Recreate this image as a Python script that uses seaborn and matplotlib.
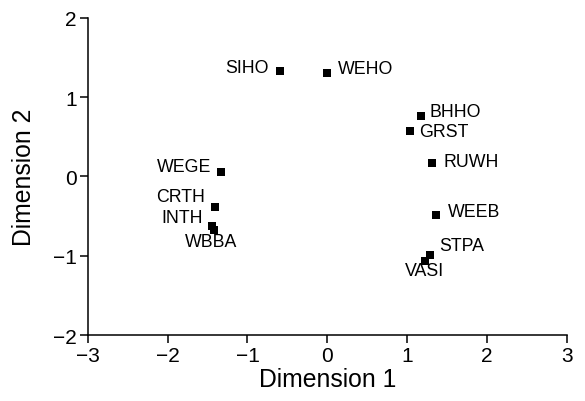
import matplotlib
matplotlib.use("Agg")
import matplotlib.pyplot as plt
import seaborn as sns
import pandas as pd

species = ["SIHO", "WEHO", "BHHO", "GRST", "RUWH", "WEEB", "STPA", "VASI",
           "WEGE", "CRTH", "INTH", "WBBA"]
dim1 = [-0.59, -0.01, 1.17, 1.03, 1.31, 1.36, 1.28, 1.22, -1.33, -1.41, -1.44, -1.42]
dim2 = [1.33, 1.31, 0.76, 0.57, 0.17, -0.48, -0.99, -1.06, 0.06, -0.38, -0.62, -0.68]

# label offsets in pixels (dx, dy) and alignment
offsets = {
    "SIHO": (-11, 4, "right"), "WEHO": (11, 4, "left"), "BHHO": (9, 5, "left"),
    "GRST": (10, 0, "left"), "RUWH": (12, 2, "left"), "WEEB": (12, 3, "left"),
    "STPA": (10, 9, "left"), "VASI": (0, -10, "center"), "WEGE": (-10, 5, "right"),
    "CRTH": (-10, 10, "right"), "INTH": (-9, 8, "right"), "WBBA": (-3, -11, "center"),
}

df = pd.DataFrame({"species": species, "Dimension 1": dim1, "Dimension 2": dim2})

sns.set_theme(style="ticks")
plt.rcParams["font.family"] = ["Liberation Sans", "DejaVu Sans"]

fig = plt.figure(figsize=(5.85, 4.02), dpi=100)
ax = fig.add_axes([0.150, 0.164, 0.819, 0.789])

sns.scatterplot(data=df, x="Dimension 1", y="Dimension 2", marker="s", color="black",
                s=28, edgecolor="black", linewidth=0, ax=ax)

for name, x, y in zip(species, dim1, dim2):
    dx, dy, ha = offsets[name]
    ax.annotate(name, (x, y), xytext=(dx, dy), textcoords="offset pixels",
                ha=ha, va="center", fontsize=12.8, color="black")

ax.set_xlim(-3, 3)
ax.set_ylim(-2, 2)
ax.set_xticks([-3, -2, -1, 0, 1, 2, 3])
ax.set_yticks([-2, -1, 0, 1, 2])
ax.set_xlabel("Dimension 1", fontsize=17.8, color="black", labelpad=1)
ax.set_ylabel("Dimension 2", fontsize=17.8, color="black", labelpad=12)
ax.tick_params(axis="both", labelsize=15, colors="black", length=6, width=1.1,
               direction="out", pad=2)
for s in ["left", "bottom"]:
    ax.spines[s].set_linewidth(1.1)
    ax.spines[s].set_color("black")
sns.despine(ax=ax)

fig.savefig("out.png", dpi=100)
